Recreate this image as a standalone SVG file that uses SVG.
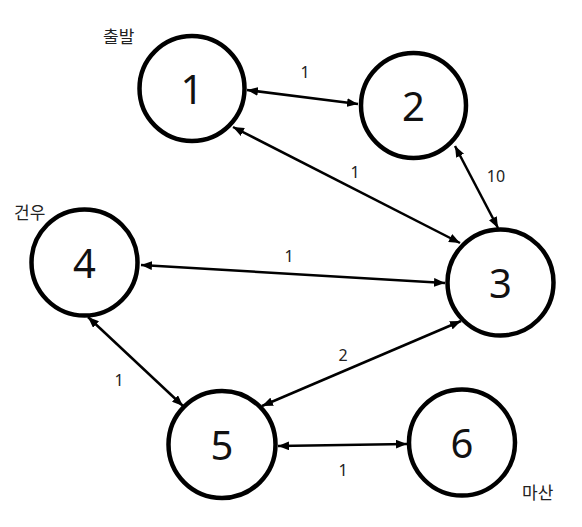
<svg xmlns="http://www.w3.org/2000/svg" width="582" height="527" viewBox="0 0 582 527">
<defs>
<style>
.node circle{fill:#fff;stroke:#000;stroke-width:4.5}
.node text{font-family:"Noto Sans","Liberation Sans",sans-serif;font-size:40px;fill:#111;text-anchor:middle}
.edges line{stroke:#000;stroke-width:2.5;marker-start:url(#ah);marker-end:url(#ah)}
.lbl{font-family:"Noto Sans","Liberation Sans",sans-serif;font-size:16px;fill:#222;text-anchor:middle}
.kr{font-family:"Noto Sans","Noto Sans CJK KR",sans-serif;font-size:17px;fill:#222}
</style>
<marker id="ah" viewBox="0 0 10 8" refX="10" refY="4" markerWidth="11" markerHeight="9" markerUnits="userSpaceOnUse" orient="auto-start-reverse">
<path d="M0,0 L10,4 L0,8 z" fill="#000"/>
</marker>
</defs>
<rect width="582" height="527" fill="#fff"/>
<g class="edges">
<line x1="247" y1="90" x2="358" y2="104"/>
<line x1="233" y1="127" x2="460" y2="243"/>
<line x1="455" y1="146" x2="498" y2="228"/>
<line x1="141" y1="265" x2="445" y2="283"/>
<line x1="88" y1="317" x2="183" y2="406"/>
<line x1="461" y1="321" x2="262" y2="406"/>
<line x1="278" y1="446" x2="407" y2="444"/>
</g>
<g>
<text class="lbl" x="305" y="78">1</text>
<text class="lbl" x="355" y="178">1</text>
<text class="lbl" x="496" y="182">10</text>
<text class="lbl" x="289" y="262">1</text>
<text class="lbl" x="119" y="386">1</text>
<text class="lbl" x="343" y="361">2</text>
<text class="lbl" x="343" y="476">1</text>
</g>
<g id="n1" class="node"><circle cx="192" cy="88.5" r="52.5"/><text x="192" y="104">1</text></g>
<g id="n2" class="node"><circle cx="413.5" cy="105.5" r="52.5"/><text x="413.5" y="121">2</text></g>
<g id="n3" class="node"><circle cx="500.5" cy="282.5" r="53"/><text x="500.5" y="298">3</text></g>
<g id="n4" class="node"><circle cx="84.5" cy="262.5" r="53"/><text x="84.5" y="278">4</text></g>
<g id="n5" class="node"><circle cx="222" cy="444.5" r="53.5"/><text x="222" y="460">5</text></g>
<g id="n6" class="node"><circle cx="462" cy="442.5" r="53"/><text x="462" y="458">6</text></g>
<text class="kr" x="103" y="43">출발</text>
<text class="kr" x="14" y="219">건우</text>
<text class="kr" x="522" y="499">마산</text>
</svg>
